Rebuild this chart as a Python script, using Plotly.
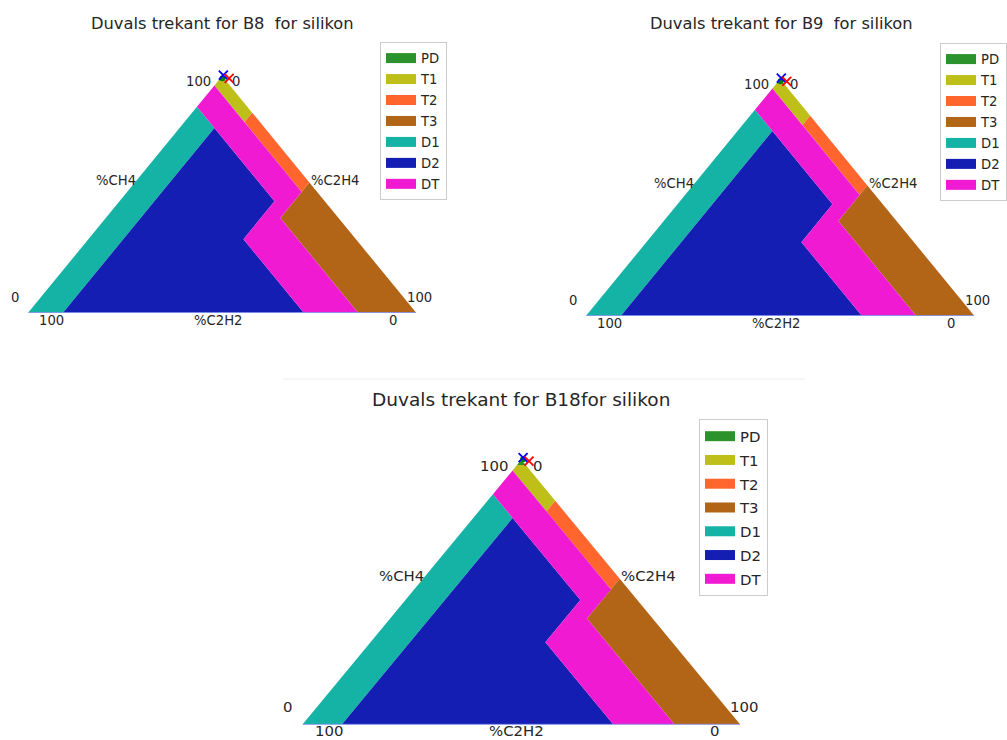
import plotly.graph_objects as go

W, H = 1007, 740

# ---------------- data ----------------
ZONES = ["PD", "T1", "T2", "T3", "D1", "D2", "DT"]
ZONE_COLORS = ["#2c932c", "#bfbf1a", "#ff662e", "#b26517", "#14b3a6", "#141eb3", "#f01ad2"]

# zone corner points, as (%CH4, %C2H4); %C2H2 = 100 - the two
PD_CH4 = [100, 98, 98]
PD_C2H4 = [0, 2, 0]
T1_CH4 = [98, 98, 84.5, 80.5, 96]
T1_C2H4 = [0, 2, 15.5, 15.5, 0]
T2_CH4 = [84.5, 55, 51, 80.5]
T2_C2H4 = [15.5, 45, 45, 15.5]
T3_CH4 = [55, 0, 0, 40]
T3_C2H4 = [45, 100, 85, 45]
D1_CH4 = [0, 87, 78, 0]
D1_C2H4 = [0, 0, 9, 9]
D2_CH4 = [0, 78, 47, 31, 0]
D2_C2H4 = [9, 9, 40, 40, 71]
DT_CH4 = [96, 87, 78, 47, 31, 0, 0, 40, 51, 80.5]
DT_C2H4 = [0, 0, 9, 40, 40, 71, 85, 45, 45, 15.5]

ZONE_CH4 = [PD_CH4, T1_CH4, T2_CH4, T3_CH4, D1_CH4, D2_CH4, DT_CH4]
ZONE_C2H4 = [PD_C2H4, T1_C2H4, T2_C2H4, T3_C2H4, D1_C2H4, D2_C2H4, DT_C2H4]

# triangle base corners (%CH4, %C2H4): C2H2 corner, C2H4 corner
BASE_CH4 = [0, 0]
BASE_C2H4 = [0, 100]

TRANSFORMERS = ["B8", "B9", "B18"]
TITLES = ["Duvals trekant for B8  for silikon",
          "Duvals trekant for B9  for silikon",
          "Duvals trekant for B18for silikon"]

# gas samples plotted on each triangle (%CH4, %C2H4)
SAMPLE_COLORS = ["green", "blue", "red"]
SAMPLE_SYMBOLS = ["circle", "x-thin", "x-thin"]
B8_CH4 = [99.0, 100.4, 99.0]
B8_C2H4 = [0.6, 0.1, 2.3]
B9_CH4 = [99.0, 100.4, 99.0]
B9_C2H4 = [0.6, 0.1, 2.2]
B18_CH4 = [100.2, 100.8, 99.5]
B18_C2H4 = [0.3, 0.0, 2.0]
SAMPLE_CH4 = [B8_CH4, B9_CH4, B18_CH4]
SAMPLE_C2H4 = [B8_C2H4, B9_C2H4, B18_C2H4]

AXIS_TEXTS = ["100", "0", "%CH4", "%C2H4", "0", "100", "100", "%C2H2", "0"]

# ---------------- layout constants ----------------
# label anchor positions in triangle plane coordinates
LABEL_X = [43.8, 53.6, 22.6, 79.1, -3.4, 101.0, 5.9, 48.9, 94.1]
LABEL_Y = [97.5, 97.5, 56.0, 56.0, 6.55, 6.55, -3.4, -3.4, -3.4]

# panel geometry in pixels: triangle (left, right, base y, apex y), domain box (x0,x1,y0,y1)
PANELS = [
    dict(tri=(28.3, 416.0, 312.5, 76.0), box=(0, 445, 38, 345), title=(222.5, 23), tsize=16.3,
         lsize=13.2, leg=(380, 42), gap=0.8, bshift=0),
    dict(tri=(586.3, 974.0, 315.5, 79.0), box=(558, 1003, 40, 348), title=(781, 23), tsize=16.3,
         lsize=13.2, leg=(940, 43), gap=0.8, bshift=0),
    dict(tri=(302.7, 740.0, 724.3, 459.8), box=(280, 790, 405, 740), title=(521, 399), tsize=18.5,
         lsize=14.9, leg=(699, 419), gap=1.4, bshift=2),
]

TEXT_COLOR = "#262626"
FONT = "DejaVu Sans"


def to_plane(ch4, c2h4):
    xs = [e + m / 2.0 for m, e in zip(ch4, c2h4)]
    ys = list(ch4)
    return xs, ys


fig = go.Figure()
annotations = []
layout_axes = {}

for i, p in enumerate(PANELS):
    n = i + 1
    xa = "x" if n == 1 else f"x{n}"
    ya = "y" if n == 1 else f"y{n}"
    leg = "legend" if n == 1 else f"legend{n}"

    left, right, base, apex = p["tri"]
    bx0, bx1, by0, by1 = p["box"]
    sx = (right - left) / 100.0
    sy = (base - apex) / 100.0
    xrange_ = [(bx0 - left) / sx, (bx1 - left) / sx]
    yrange_ = [(base - by1) / sy, (base - by0) / sy]

    axcommon = dict(visible=False, showgrid=False, zeroline=False, fixedrange=True)
    layout_axes["xaxis" if n == 1 else f"xaxis{n}"] = dict(
        axcommon, range=xrange_, domain=[bx0 / W, bx1 / W], anchor=ya)
    layout_axes["yaxis" if n == 1 else f"yaxis{n}"] = dict(
        axcommon, range=yrange_, domain=[1 - by1 / H, 1 - by0 / H], anchor=xa)

    # zones
    for z, col, ch4, c2h4 in zip(ZONES, ZONE_COLORS, ZONE_CH4, ZONE_C2H4):
        xs, ys = to_plane(ch4, c2h4)
        fig.add_trace(go.Scatter(x=xs + [xs[0]], y=ys + [ys[0]], mode="lines", fill="toself",
                                 fillcolor=col, line=dict(width=0, color=col),
                                 showlegend=False, hoverinfo="skip", xaxis=xa, yaxis=ya))
    # base line
    bxs, bys = to_plane(BASE_CH4, BASE_C2H4)
    fig.add_trace(go.Scatter(x=bxs, y=bys, mode="lines", line=dict(width=1, color="rgba(120,140,235,0.8)"),
                             showlegend=False, hoverinfo="skip", xaxis=xa, yaxis=ya))
    # legend entries
    for z, col in zip(ZONES, ZONE_COLORS):
        fig.add_trace(go.Scatter(x=[None], y=[None], mode="lines", name=z,
                                 line=dict(width=10, color=col), legend=leg,
                                 legendgroup=f"{z}_{n}", showlegend=True, xaxis=xa, yaxis=ya))
    # samples
    sxs, sys_ = to_plane(SAMPLE_CH4[i], SAMPLE_C2H4[i])
    for k in range(len(sxs)):
        sym = SAMPLE_SYMBOLS[k]
        col = SAMPLE_COLORS[k]
        if sym == "circle":
            mk = dict(symbol="circle", size=6, color=col)
        else:
            mk = dict(symbol=sym, size=9, color=col, line=dict(width=1.8, color=col))
        fig.add_trace(go.Scatter(x=[sxs[k]], y=[sys_[k]], mode="markers", marker=mk,
                                 showlegend=False, cliponaxis=False, xaxis=xa, yaxis=ya))

    # axis labels
    for t, lx, ly in zip(AXIS_TEXTS, LABEL_X, LABEL_Y):
        annotations.append(dict(x=lx, y=ly, xref=xa, yref=ya, text=t, showarrow=False,
                                xanchor="center", yanchor="middle", borderpad=0,
                                yshift=p["bshift"] if ly < 0 else 0,
                                font=dict(family=FONT, size=p["lsize"], color=TEXT_COLOR)))
    # title
    tx, ty = p["title"]
    annotations.append(dict(x=tx / W, y=1 - ty / H, xref="paper", yref="paper", text=TITLES[i],
                            showarrow=False, xanchor="center", yanchor="middle",
                            font=dict(family=FONT, size=p["tsize"], color=TEXT_COLOR)))

    lx0, ly0 = p["leg"]
    layout_axes[leg] = dict(x=lx0 / W, y=1 - ly0 / H, xanchor="left", yanchor="top",
                            bgcolor="white", bordercolor="#cccccc", borderwidth=1,
                            font=dict(family=FONT, size=p["lsize"], color=TEXT_COLOR),
                            itemwidth=30, tracegroupgap=p["gap"], itemclick=False,
                            itemdoubleclick=False)

fig.update_layout(
    width=W, height=H,
    margin=dict(l=0, r=0, t=0, b=0, autoexpand=False),
    paper_bgcolor="white", plot_bgcolor="white",
    annotations=annotations,
    shapes=[dict(type="line", xref="paper", yref="paper", x0=283 / W, x1=805 / W,
                 y0=1 - 379 / H, y1=1 - 379 / H, line=dict(color="#ececec", width=1))],
    **layout_axes,
)

fig.write_html("out.html", config={"displayModeBar": False},
               post_script="document.body.style.margin='0px';document.body.style.overflow='hidden';")
